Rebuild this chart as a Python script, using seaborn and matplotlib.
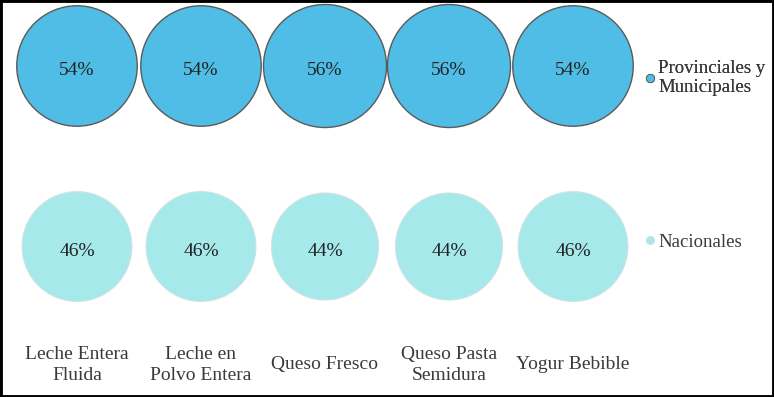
import matplotlib
matplotlib.use("Agg")
import matplotlib.pyplot as plt
import seaborn as sns
import pandas as pd
from matplotlib.lines import Line2D
from matplotlib.patches import Rectangle

categories = ["Leche Entera\nFluida", "Leche en\nPolvo Entera", "Queso Fresco",
              "Queso Pasta\nSemidura", "Yogur Bebible"]
provinciales = [54, 54, 56, 56, 54]
nacionales = [46, 46, 44, 44, 46]
series_names = ["Provinciales y\nMunicipales", "Nacionales"]

sns.set_theme(style="white")
plt.rcParams["font.family"] = ["Liberation Serif", "DejaVu Serif"]

W, H = 774, 397
fig = plt.figure(figsize=(W / 100, H / 100), dpi=100)
ax = fig.add_axes([0, 0, 1, 1])

df_p = pd.DataFrame({"x": range(len(categories)), "y": 1, "v": provinciales})
df_n = pd.DataFrame({"x": range(len(categories)), "y": 0, "v": nacionales})

top_color = "#4FBDE6"
bot_color = "#A6E9EA"
size_kw = dict(sizes=(5935, 7843), size_norm=(44, 56))

sns.scatterplot(data=df_p, x="x", y="y", size="v", color=top_color,
                edgecolor="#5a5a5a", linewidth=1.0, legend=False, ax=ax, **size_kw)
sns.scatterplot(data=df_n, x="x", y="y", size="v", color=bot_color,
                edgecolor="#cfe3e3", linewidth=0.8, legend=False, ax=ax, **size_kw)

for df in (df_p, df_n):
    for xi, yi, v in zip(df["x"], df["y"], df["v"]):
        ax.annotate(f"{v}%", (xi, yi), xytext=(0, -3.5), textcoords="offset points",
                    ha="center", va="center", fontsize=14, color="#222222")

for xi, cat in enumerate(categories):
    ax.text(xi, -0.656, cat, ha="center", va="center", fontsize=14,
            color="#3a3a3a", linespacing=1.25)

# axis mapping
px_unit_x = 124.0
x0 = 77
ax.set_xlim(-x0 / px_unit_x, (W - x0) / px_unit_x)
ax.set_ylim(-150.5 / 180.5, (H - 150.5) / 180.5)
ax.axis("off")

# legends
h1 = [Line2D([], [], marker="o", linestyle="none", markersize=6,
             markerfacecolor=top_color, markeredgecolor="#5a5a5a", markeredgewidth=0.6)]
h2 = [Line2D([], [], marker="o", linestyle="none", markersize=6,
             markerfacecolor=bot_color, markeredgecolor="#cfe3e3", markeredgewidth=0.6)]
leg1 = fig.legend(h1, [series_names[0]], loc="center left",
                  bbox_to_anchor=(628 / W, (H - 78) / H), frameon=False,
                  handlelength=0.5, handletextpad=0.2, fontsize=13.5,
                  labelcolor="#3a3a3a")
for t in leg1.get_texts():
    t.set_linespacing(1.2)
leg2 = fig.legend(h2, [series_names[1]], loc="center left",
                  bbox_to_anchor=(628 / W, (H - 242) / H), frameon=False,
                  handlelength=0.5, handletextpad=0.2, fontsize=13.5,
                  labelcolor="#3a3a3a")
fig.add_artist(leg1)

# screenshot frame
fig.patches.append(Rectangle((0, 0), 1, 1, transform=fig.transFigure,
                             fill=False, edgecolor="black", linewidth=3.5))

fig.savefig("out.png", dpi=100)
